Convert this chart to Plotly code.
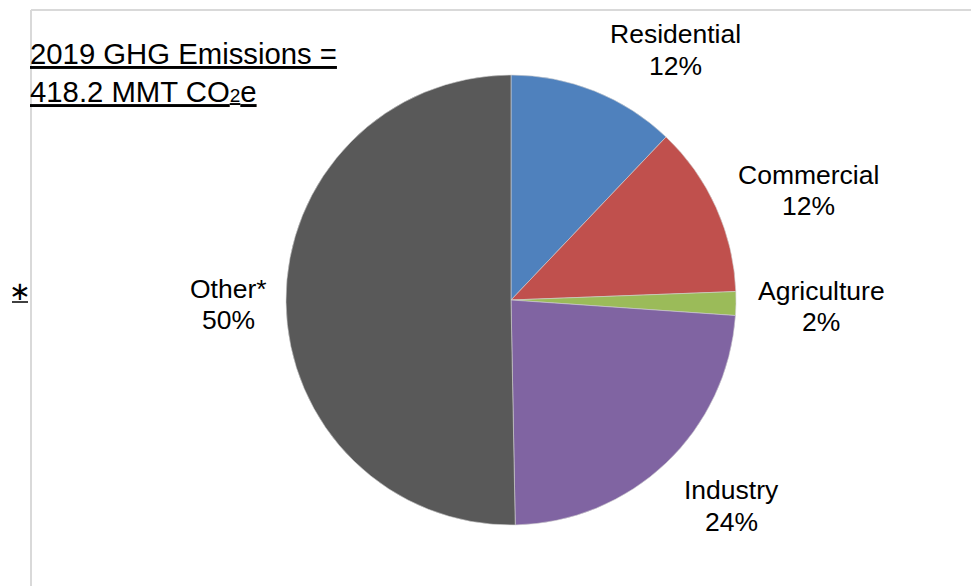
import plotly.graph_objects as go

sectors = ["Residential", "Commercial", "Agriculture", "Industry", "Other*"]
shares = [12.1, 12.3, 1.7, 23.6, 50.3]
colors = ["#4F81BD", "#C0504D", "#9BBB59", "#8064A2", "#595959"]
total_label = "418.2 MMT CO<span style='font-size:65%'>2</span>e"
year = 2019

W, H = 979, 586
OFF = 8  # page body margin offset


def px(x):
    return (x - OFF) / W


def py(y):
    return 1 - (y - OFF) / H


# label centres in reference pixels (x, name line y, percent line y)
label_px = [(675, 34, 66), (808, 175, 206), (821, 291, 322), (731, 490, 522), (228, 289, 320)]

fig = go.Figure()
fig.add_trace(go.Pie(
    labels=sectors, values=shares, sort=False, direction="clockwise", rotation=0,
    marker=dict(colors=colors, line=dict(color="#d0d0d0", width=0.6)),
    textinfo="none", hoverinfo="label+percent", showlegend=False,
    domain=dict(x=[px(511 - 225), px(511 + 225)], y=[py(525), py(75)]),
))

tot = sum(shares)
font = dict(family="Liberation Sans, Arial, sans-serif", size=26.5, color="black")
for name, v, (x, y1, y2) in zip(sectors, shares, label_px):
    fig.add_annotation(x=px(x), y=py(y1), xref="paper", yref="paper", showarrow=False,
                       text=name, font=font, xanchor="center", yanchor="middle")
    fig.add_annotation(x=px(x), y=py(y2), xref="paper", yref="paper", showarrow=False,
                       text=f"{round(v / tot * 100)}%", font=font, xanchor="center", yanchor="middle")

fig.add_annotation(x=px(28), y=py(73), xref="paper", yref="paper", showarrow=False,
                   text=f"<u>{year} GHG Emissions =</u><br><u>{total_label}</u>",
                   font=dict(family="Liberation Sans, Arial, sans-serif", size=29.3, color="black"),
                   xanchor="left", yanchor="middle", align="left")
fig.add_annotation(x=px(20), y=py(291), xref="paper", yref="paper", showarrow=False,
                   text="\u2217",
                   font=dict(family="DejaVu Sans, sans-serif", size=26, color="black"),
                   xanchor="center", yanchor="middle")

line = dict(color="#d9d9d9", width=2)
fig.add_shape(type="line", xref="paper", yref="paper", x0=px(31), x1=1, y0=py(10), y1=py(10), line=line)
fig.add_shape(type="line", xref="paper", yref="paper", x0=px(31), x1=px(31), y0=py(10), y1=0, line=line)
fig.add_shape(type="line", xref="paper", yref="paper", x0=px(12), x1=px(28), y0=py(302), y1=py(302),
              line=dict(color="black", width=1.5))

fig.update_layout(width=W, height=H, margin=dict(l=0, r=0, t=0, b=0),
                  paper_bgcolor="white", plot_bgcolor="white")
fig.write_html("out.html")
